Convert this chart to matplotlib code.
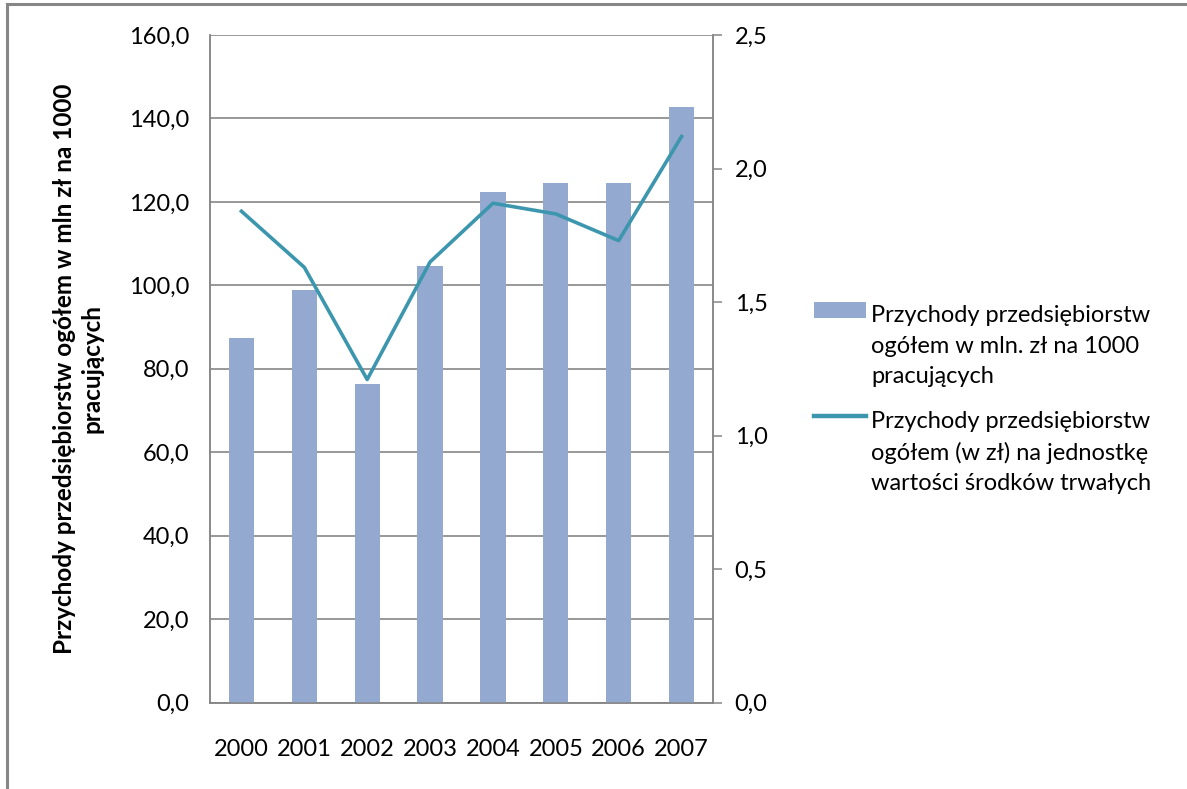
import matplotlib
matplotlib.use("Agg")
import matplotlib.pyplot as plt
from matplotlib.container import BarContainer
from matplotlib.lines import Line2D
from matplotlib.legend_handler import HandlerPatch, HandlerLine2D, update_from_first_child
from matplotlib.ticker import FuncFormatter, MultipleLocator
import numpy as np

plt.rcParams["font.family"] = ["Lato", "DejaVu Sans"]

years = ["2000", "2001", "2002", "2003", "2004", "2005", "2006", "2007"]
revenue_per_1000 = [87.3, 98.8, 76.3, 104.6, 122.3, 124.5, 124.5, 142.7]
revenue_per_asset = [1.84, 1.63, 1.21, 1.65, 1.87, 1.83, 1.73, 2.12]

bar_label = "Przychody przedsiębiorstw\nogółem w mln. zł na 1000\npracujących"
line_label = "Przychody przedsiębiorstw\nogółem (w zł) na jednostkę\nwartości środków trwałych"
ylabel = "Przychody przedsiębiorstw ogółem w mln zł na 1000\npracujących"

comma = FuncFormatter(lambda v, _: f"{v:.1f}".replace(".", ","))
grey = "#868686"
fs = 17
spacing = 1.55
pitch = fs * spacing  # legend line pitch in points


# legend handles sit next to the first line of a 3-line label, not the middle one
class TopPatch(HandlerPatch):
    def create_artists(self, legend, orig, xd, yd, w, h, fontsize, trans):
        return super().create_artists(legend, orig, xd, yd - pitch, w, h, fontsize, trans)


class TopLine(HandlerLine2D):
    def create_artists(self, legend, orig, xd, yd, w, h, fontsize, trans):
        return super().create_artists(legend, orig, xd, yd - 2 * pitch, w, h, fontsize, trans)


fig = plt.figure(figsize=(11.87, 7.89), dpi=100)
ax = fig.add_axes([210 / 1187, 1 - 702.6 / 789, 503 / 1187, (702.6 - 35) / 789])
ax2 = ax.twinx()

x = np.arange(len(years))
bars = ax.bar(x, revenue_per_1000, 0.4, color="#94A9D0", zorder=3)
line, = ax2.plot(x, revenue_per_asset, color="#3C96AE", lw=2.6, zorder=4)

ax.set_xlim(-0.5, len(years) - 0.5)
ax.set_ylim(0, 160)
ax.yaxis.set_major_locator(MultipleLocator(20))
ax.yaxis.set_major_formatter(comma)
ax2.set_ylim(0, 2.5)
ax2.yaxis.set_major_locator(MultipleLocator(0.5))
ax2.yaxis.set_major_formatter(comma)

ax.grid(axis="y", color=grey, lw=1.2, zorder=0)
ax.set_xticks(x, years)
for a in (ax, ax2):
    for s in a.spines.values():
        s.set_color(grey)
        s.set_linewidth(1.1)
    a.spines["top"].set_visible(False)
ax.tick_params(axis="x", length=0, pad=26, labelsize=fs)
ax.tick_params(axis="y", length=0, pad=15, labelsize=fs)
ax2.tick_params(axis="y", length=6.5, width=1.1, color=grey, pad=9, labelsize=fs)

ax.set_ylabel(ylabel, fontsize=17.5, fontweight="bold", labelpad=18, linespacing=1.25)

leg = fig.legend(handles=[bars, line], labels=[bar_label, line_label],
                 loc="upper left", bbox_to_anchor=(793 / 1187, 1 - 284 / 789),
                 frameon=False, fontsize=fs, handlelength=2.2, handleheight=0.65,
                 handletextpad=0.2, labelspacing=1.0,
                 handler_map={BarContainer: TopPatch(update_func=update_from_first_child),
                              Line2D: TopLine()})
for t in leg.get_texts():
    t.set_linespacing(spacing)
leg.get_lines()[0].set_linewidth(3.2)

# outer chart frame (only left and top edges are visible in the original)
fig.add_artist(Line2D([7 / 1187, 7 / 1187], [0, 1 - 4 / 789], transform=fig.transFigure,
                      color=grey, lw=2.2))
fig.add_artist(Line2D([7 / 1187, 1], [1 - 4 / 789, 1 - 4 / 789], transform=fig.transFigure,
                      color=grey, lw=2.2))

fig.savefig("out.png", dpi=100)
